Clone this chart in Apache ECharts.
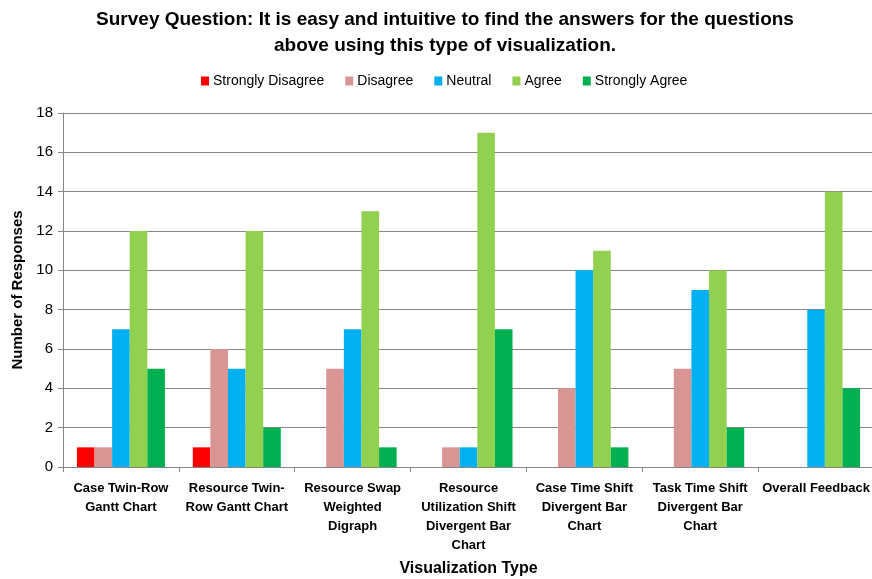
<!DOCTYPE html>
<html><head><meta charset="utf-8">
<script src="https://cdn.jsdelivr.net/npm/echarts@6/dist/echarts.min.js"></script>
<style>html,body{margin:0;padding:0;background:#fff}#c{width:872px;height:579px}</style>
</head><body><div id="c"></div>
<script>
const categories = ["Case Twin-Row\nGantt Chart","Resource Twin-\nRow Gantt Chart","Resource Swap\nWeighted\nDigraph","Resource\nUtilization Shift\nDivergent Bar\nChart","Case Time Shift\nDivergent Bar\nChart","Task Time Shift\nDivergent Bar\nChart","Overall Feedback"];
const seriesNames = ["Strongly Disagree","Disagree","Neutral","Agree","Strongly Agree"];
const stronglyDisagree = [1,1,0,0,0,0,0];
const disagree = [1,6,5,1,4,5,0];
const neutral = [7,5,7,1,10,9,8];
const agree = [12,12,13,17,11,10,14];
const stronglyAgree = [5,2,1,7,1,2,4];
const yTicks = [0,2,4,6,8,10,12,14,16,18];
const colors = ["#FF0000","#D99594","#00B0F0","#92D050","#00B050"];
const FONT = "'Liberation Sans','Noto Sans',sans-serif";
const data = [stronglyDisagree,disagree,neutral,agree,stronglyAgree];
const chart = echarts.init(document.getElementById('c'));
chart.setOption({
  animation:false,
  textStyle:{fontFamily:FONT},
  title:{text:"Survey Question: It is easy and intuitive to find the answers for the questions\nabove using this type of visualization.",left:440,textAlign:'center',top:2,
    textStyle:{fontFamily:FONT,fontSize:19,fontWeight:'bold',color:'#000',lineHeight:26}},
  legend:{top:74,left:201,padding:0,itemWidth:8,itemHeight:9,itemGap:21,icon:'rect',
    textStyle:{fontFamily:FONT,fontSize:14,color:'#000',padding:[0,0,0,-1]},data:seriesNames},
  grid:{left:63,top:113,width:811,height:354,outerBoundsMode:'none',containLabel:false},
  xAxis:{type:'category',data:categories,
    axisLine:{lineStyle:{color:'#868686'}},
    axisTick:{show:true,alignWithLabel:false,length:5,lineStyle:{color:'#868686'}},
    axisLabel:{interval:0,fontFamily:FONT,fontSize:13,fontWeight:'bold',color:'#000',lineHeight:19,margin:12},
    name:"Visualization Type",nameLocation:'middle',nameGap:94,
    nameTextStyle:{fontFamily:FONT,fontSize:16,fontWeight:'bold',color:'#000'}},
  yAxis:{type:'value',min:0,max:18,interval:2,
    axisLine:{show:true,lineStyle:{color:'#868686'}},
    axisTick:{show:true,length:5,lineStyle:{color:'#868686'}},
    splitLine:{lineStyle:{color:'#868686'}},
    axisLabel:{fontFamily:FONT,fontSize:15,color:'#000',margin:10},
    name:"Number of Responses",nameLocation:'middle',nameGap:38,
    nameTextStyle:{fontFamily:FONT,fontSize:15,fontWeight:'bold',color:'#000'}},
  series:seriesNames.map((n,i)=>({name:n,type:'bar',data:data[i],barGap:'0%',barCategoryGap:'24%',
    itemStyle:{color:colors[i]}}))
});
</script></body></html>
